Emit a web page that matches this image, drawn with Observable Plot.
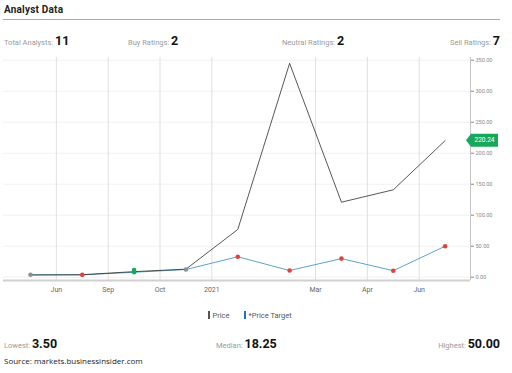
<!DOCTYPE html>
<html><head><meta charset="utf-8">
<script src="https://cdn.jsdelivr.net/npm/d3@7"></script>
<script src="https://cdn.jsdelivr.net/npm/@observablehq/plot@0.6"></script>
<style>
body{margin:0;background:#fff;font-family:Roboto,"Noto Sans",sans-serif;}
#wrap{position:relative;width:512px;height:373px;overflow:hidden;}
.abs{position:absolute;white-space:nowrap;}
.lbl{color:#9a9a9a;font-size:7.5px;}
.num{color:#111;font-size:12.5px;font-weight:700;}
#title{left:4px;top:4px;font-size:10px;font-weight:700;color:#222;letter-spacing:0.2px;}
#hr{left:3px;top:19px;width:497px;height:1px;background:#a8a8a8;}
#chart{position:absolute;left:0;top:50px;}
.leg{font-size:7.5px;color:#555;}
.bar{display:inline-block;width:1.5px;height:8px;vertical-align:-1px;margin-right:3px;}
#src{left:4px;top:355px;font-family:"Open Sans",sans-serif;font-size:8px;color:#222;}
</style></head>
<body><div id="wrap">
<div class="abs" id="title">Analyst Data</div>
<div class="abs" id="hr"></div>
<div class="abs" style="left:4px;top:30px"><span class="lbl">Total Analysts: </span><span class="num">11</span></div>
<div class="abs" style="left:128px;top:30px"><span class="lbl">Buy Ratings: </span><span class="num">2</span></div>
<div class="abs" style="left:282px;top:30px"><span class="lbl">Neutral Ratings: </span><span class="num">2</span></div>
<div class="abs" style="right:12px;top:30px"><span class="lbl">Sell Ratings: </span><span class="num">7</span></div>
<div id="chart"></div>
<div class="abs leg" style="left:208px;top:311px"><span class="bar" style="background:#555"></span>Price</div>
<div class="abs leg" style="left:244px;top:311px"><span class="bar" style="background:#1e6fd0"></span>*Price Target</div>
<div class="abs" style="left:4px;top:333px"><span class="lbl">Lowest: </span><span class="num">3.50</span></div>
<div class="abs" style="left:216px;top:333px"><span class="lbl">Median: </span><span class="num">18.25</span></div>
<div class="abs" style="right:12px;top:333px"><span class="lbl">Highest: </span><span class="num">50.00</span></div>
<div class="abs" id="src">Source: markets.businessinsider.com</div>
</div>
<script>
const periods = [0,1,2,3,4,5,6,7,8];
const price = [3.5,4,9,13,77,345,121,141,220.24];
const target = [4,3.8,8,12.4,33,10.8,30,10.5,50];
const ratings = ["hold","sell","buy","hold","sell","sell","sell","sell","sell"];
const extraIdx = [2];
const extraTarget = [11.5];
const extraRating = ["buy"];
const tickPos = [0.5,1.5,2.5,3.5,5.5,6.5,7.5];
const tickLabels = ["Jun","Sep","Oct","2021","Mar","Apr","Jun"];
const yTicks = [0,50,100,150,200,250,300,350];
const lastPrice = 220.24;

const priceData = periods.map((p,i)=>({x:p,y:price[i]}));
const targetData = periods.map((p,i)=>({x:p,y:target[i],r:ratings[i]}));
const dotData = targetData.concat(extraIdx.map((p,i)=>({x:p,y:extraTarget[i],r:extraRating[i]})));
const colorOf = {hold:"#8b9095",sell:"#e5403a",buy:"#18a85b"};

const xMin=-0.52, xMax=8.49, yMin=-5.3, yMax=354.4;
const chart = Plot.plot({
  width:512, height:250,
  marginLeft:3, marginRight:42, marginTop:7, marginBottom:20,
  style:{fontFamily:"Roboto, sans-serif", background:"transparent"},
  x:{domain:[xMin,xMax]},
  y:{domain:[yMin,yMax]},
  marks:[
    Plot.ruleY(yTicks,{x1:xMin,x2:xMax,stroke:"#f1f1f1",strokeWidth:1}),
    Plot.ruleX(tickPos,{y1:yMin,y2:yMax,stroke:"#e0e0e0",strokeWidth:1}),
    Plot.ruleY([yMin],{x1:xMin,x2:xMax,stroke:"#d0d0d0",strokeWidth:2}),
    Plot.ruleX([xMax],{y1:yMin,y2:yMax,stroke:"#c4c4c4",strokeWidth:1}),
    Plot.axisY({anchor:"right",ticks:yTicks,tickFormat:d=>d.toFixed(2),tickSize:3,tickPadding:2,fontSize:5.5,color:"#888",label:null}),
    Plot.axisX({ticks:tickPos,tickFormat:(d)=>tickLabels[tickPos.indexOf(d)],tickSize:0,tickPadding:7,fontSize:7,color:"#666",label:null}),
    Plot.line(targetData,{x:"x",y:"y",stroke:"#5ba3cf",strokeWidth:1}),
    Plot.line(priceData,{x:"x",y:"y",stroke:"#222",strokeWidth:0.9,strokeOpacity:0.85}),
    Plot.dot(dotData,{x:"x",y:"y",r:2.3,fill:d=>colorOf[d.r],stroke:"none"})
  ]
});
document.getElementById("chart").appendChild(chart);
// price label using the chart's own scales
const sx = chart.scale("x"), sy = chart.scale("y");
const px = sx.apply(xMax), py = sy.apply(lastPrice);
const svg = d3.select(chart);
const g = svg.append("g");
const w=27,h=13;
g.append("path").attr("d",`M${px-4},${py} L${px+1},${py-h/2} L${px+1+w},${py-h/2} L${px+1+w},${py+h/2} L${px+1},${py+h/2} Z`).attr("fill","#18a85b");
g.append("text").attr("x",px+1+w/2).attr("y",py).attr("dy","0.35em").attr("text-anchor","middle")
 .attr("fill","#fff").attr("font-size","6.5px").attr("font-family","Roboto, sans-serif").text(lastPrice.toFixed(2));
</script>
</body></html>
